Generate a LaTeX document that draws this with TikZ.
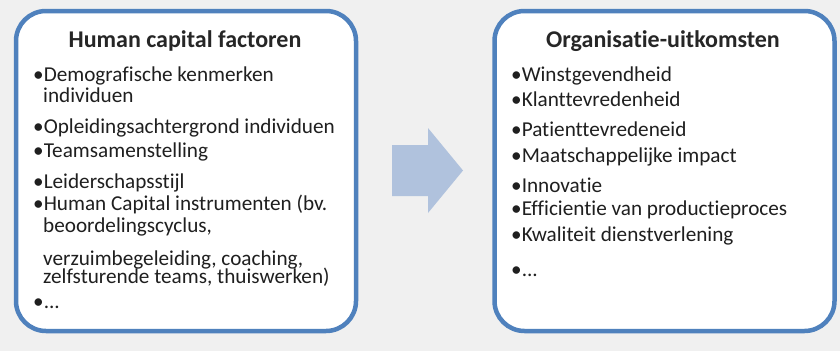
\documentclass[tikz,border=0pt]{standalone}
\usepackage{fontspec}
\setmainfont{Carlito}[Ligatures=NoCommon]
\definecolor{canvas}{HTML}{F0F0F0}
\definecolor{boxblue}{HTML}{4F81BD}
\definecolor{flowblue}{HTML}{B0C2DD}
\tikzset{
  panel/.style={draw=boxblue, line width=4.5pt, fill=white, rounded corners=30pt,
    minimum width=340pt, minimum height=320pt},
  heading/.style={font=\fontsize{24}{28}\selectfont\bfseries, text=black!85, inner sep=0pt, anchor=base},
  item/.style={font=\fontsize{21.2}{25}\selectfont, text=black!88, inner sep=0pt, anchor=base west}
}
\begin{document}
\begin{tikzpicture}[x=1pt, y=-1pt]
    \fill[canvas] (0,0) rectangle (840,351);
    \useasboundingbox (0,0) rectangle (840,351);
    % the two panels
    \node[panel] (hc) at (186,171) {};
    \node[panel] (org) at (664.5,171) {};
    % block arrow between them
    \fill[flowblue] (392,145) -- (428,145) -- (428,128) -- (463,170.5)
      -- (428,213) -- (428,196) -- (392,196) -- cycle;
    % left panel
    \node[heading] (hctitle) at (185,47) {Human capital factoren};
    \node[item] (hc1) at (33,81) {•Demografische kenmerken};
    \node[item] (hc1b) at (43,102) {individuen};
    \node[item] (hc2) at (33,133) {•Opleidingsachtergrond individuen};
    \node[item] (hc3) at (33,157) {•Teamsamenstelling};
    \node[item] (hc4) at (33,188) {•Leiderschapsstijl};
    \node[item] (hc5) at (33,210) {•Human Capital instrumenten (bv.};
    \node[item] (hc5b) at (43,232) {beoordelingscyclus,};
    \node[item] (hc5c) at (43,265) {verzuimbegeleiding, coaching,};
    \node[item] (hc5d) at (43,283) {zelfsturende teams, thuiswerken)};
    \node[item] (hc6) at (33,308) {•...};
    % right panel
    \node[heading] (orgtitle) at (663,47) {Organisatie-uitkomsten};
    \node[item] (org1) at (511,81) {•Winstgevendheid};
    \node[item] (org2) at (511,106) {•Klanttevredenheid};
    \node[item] (org3) at (511,136) {•Patienttevredeneid};
    \node[item] (org4) at (511,162) {•Maatschappelijke impact};
    \node[item] (org5) at (511,192) {•Innovatie};
    \node[item] (org6) at (511,215) {•Efficientie van productieproces};
    \node[item] (org7) at (511,241) {•Kwaliteit dienstverlening};
    \node[item] (org8) at (511,276) {•...};
\end{tikzpicture}
\end{document}
